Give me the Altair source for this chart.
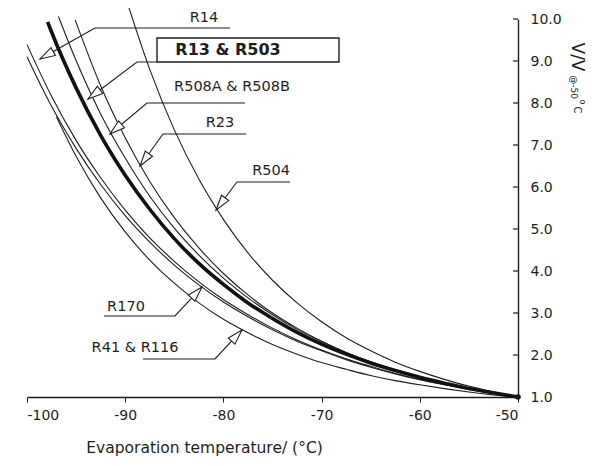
import altair as alt
import pandas as pd

INK = "#1e1e1e"
FONT = "DejaVu Sans"

# ---------------- curve data ----------------
R14_T = [-100, -97.5, -95, -92.5, -90, -87.5, -85, -82.5, -80, -77.5, -75, -72.5, -70, -67.5, -65, -62.5, -60, -57.5, -55, -52.5, -50]
R14_V = [9.39, 8.16, 7.11, 6.22, 5.45, 4.79, 4.23, 3.74, 3.32, 2.96, 2.64, 2.36, 2.12, 1.91, 1.73, 1.56, 1.42, 1.30, 1.19, 1.09, 1.00]

R170_T = [-100, -97.5, -95, -92.5, -90, -87.5, -85, -82.5, -80, -77.5, -75, -72.5, -70, -67.5, -65, -62.5, -60, -57.5, -55, -52.5, -50]
R170_V = [9.10, 7.92, 6.92, 6.06, 5.32, 4.69, 4.14, 3.67, 3.26, 2.91, 2.60, 2.33, 2.10, 1.89, 1.71, 1.55, 1.41, 1.29, 1.18, 1.09, 1.00]

R41_T = [-97, -95, -92.5, -90, -87.5, -85, -82.5, -80, -77.5, -75, -72.5, -70, -67.5, -65, -62.5, -60, -57.5, -55, -52.5, -50]
R41_V = [7.67, 6.73, 5.74, 4.93, 4.26, 3.71, 3.24, 2.85, 2.53, 2.25, 2.02, 1.82, 1.66, 1.51, 1.39, 1.29, 1.20, 1.12, 1.05, 1.00]

R13_T = [-97.9, -97.5, -95, -92.5, -90, -87.5, -85, -82.5, -80, -77.5, -75, -72.5, -70, -67.5, -65, -62.5, -60, -57.5, -55, -52.5, -50]
R13_V = [9.93, 9.69, 8.36, 7.23, 6.28, 5.47, 4.77, 4.18, 3.68, 3.24, 2.87, 2.54, 2.26, 2.02, 1.81, 1.63, 1.47, 1.33, 1.20, 1.10, 1.00]

R508_T = [-96.8, -95, -92.5, -90, -87.5, -85, -82.5, -80, -77.5, -75, -72.5, -70, -67.5, -65, -62.5, -60, -57.5, -55, -52.5, -50]
R508_V = [10.06, 9.01, 7.74, 6.69, 5.78, 5.02, 4.38, 3.83, 3.36, 2.96, 2.61, 2.32, 2.06, 1.84, 1.65, 1.48, 1.34, 1.21, 1.10, 1.00]

R23_T = [-95.1, -92.5, -90, -87.5, -85, -82.5, -80, -77.5, -75, -72.5, -70, -67.5, -65, -62.5, -60, -57.5, -55, -52.5, -50]
R23_V = [9.98, 8.41, 7.17, 6.13, 5.27, 4.55, 3.94, 3.43, 3.00, 2.64, 2.33, 2.06, 1.83, 1.64, 1.47, 1.33, 1.20, 1.09, 1.00]

R504_T = [-89.8, -87.5, -85, -82.5, -80, -77.5, -75, -72.5, -70, -67.5, -65, -62.5, -60, -57.5, -55, -52.5, -50]
R504_V = [10.40, 8.80, 7.36, 6.19, 5.23, 4.43, 3.78, 3.24, 2.79, 2.41, 2.10, 1.83, 1.61, 1.42, 1.26, 1.12, 1.00]

# ---------------- annotation data ----------------
LABELS = ["R14", "R13 & R503", "R508A & R508B", "R23", "R504", "R170", "R41 & R116"]
LABEL_T = [-81.98, -79.53, -79.12, -80.35, -75.15, -89.92, -89.00]
LABEL_V = [10.02, 9.262, 8.381, 7.524, 6.381, 3.143, 2.167]
LEAD_T = [[-79.33, -93.08, -98.68], [-86.76, -88.80, -93.79], [-77.80, -87.78, -91.55],
          [-77.70, -86.15, -88.49], [-73.22, -78.62, -80.75], [-92.16, -84.93, -82.18],
          [-88.19, -80.86, -78.11]]
LEAD_V = [[9.786, 9.786, 9.048], [8.976, 8.976, 8.095], [8.0, 8.0, 7.262],
          [7.262, 7.262, 6.50], [6.119, 6.119, 5.452], [2.929, 2.929, 3.619],
          [1.905, 1.905, 2.595]]
ARROW_ANGLE = [240.6, 232.9, 230.0, 215.7, 216.9, 43.0, 43.0]
BOX_T = [-86.76, -68.23]
BOX_V = [8.976, 9.548]

X_TICKS = [-100, -90, -80, -70, -60, -50]
Y_TICKS = [1, 2, 3, 4, 5, 6, 7, 8, 9, 10]

# ---------------- tables ----------------
thin_series = [("R14", R14_T, R14_V), ("R170", R170_T, R170_V), ("R41 & R116", R41_T, R41_V),
               ("R508A & R508B", R508_T, R508_V), ("R23", R23_T, R23_V), ("R504", R504_T, R504_V)]
rows = []
for name, ts, vs in thin_series:
    for t, v in zip(ts, vs):
        rows.append({"series": name, "T": t, "V": v})
df_thin = pd.DataFrame(rows)
df_thick = pd.DataFrame({"series": "R13 & R503", "T": R13_T, "V": R13_V})

lead_rows = []
for i, (ts, vs) in enumerate(zip(LEAD_T, LEAD_V)):
    for k, (t, v) in enumerate(zip(ts, vs)):
        lead_rows.append({"id": i, "k": k, "T": t, "V": v})
df_lead = pd.DataFrame(lead_rows)
df_tip = pd.DataFrame({"T": [t[-1] for t in LEAD_T], "V": [v[-1] for v in LEAD_V], "ang": ARROW_ANGLE})
df_lab = pd.DataFrame({"name": LABELS, "T": LABEL_T, "V": LABEL_V})
df_lab_bold = df_lab[df_lab["name"] == "R13 & R503"]
df_lab_norm = df_lab[df_lab["name"] != "R13 & R503"]
df_box = pd.DataFrame({"T": [BOX_T[0]], "T2": [BOX_T[1]], "V": [BOX_V[0]], "V2": [BOX_V[1]]})
df_end = pd.DataFrame({"T": [-50], "V": [1.0]})
df_yt = pd.DataFrame({"V": Y_TICKS})

xaxis = alt.Axis(values=X_TICKS, labelExpr="datum.value + ''", tickSize=5, labelPadding=6,
                 grid=False, title="Evaporation temperature/ (°C)", titleX=177, titleY=50,
                 titleBaseline="middle", titleAlign="center", titleFontWeight="normal",
                 titleFontSize=15.5, titleFont=FONT, titleColor=INK)
yaxis = alt.Axis(orient="right", values=Y_TICKS, format=".1f", ticks=False, labelPadding=12,
                 grid=False, title=None)
X = alt.X("T:Q", scale=alt.Scale(domain=[-100, -50], nice=False, zero=False), axis=xaxis)
Y = alt.Y("V:Q", scale=alt.Scale(domain=[1, 10], nice=False, zero=False), axis=yaxis)

thin = alt.Chart(df_thin).mark_line(interpolate="monotone", color=INK, strokeWidth=1.1).encode(
    x=X, y=Y, detail="series:N")
thick = alt.Chart(df_thick).mark_line(interpolate="monotone", color="#111", strokeWidth=3.6).encode(
    x=X, y=Y)
leaders = alt.Chart(df_lead).mark_line(color=INK, strokeWidth=1.1).encode(
    x=X, y=Y, detail="id:N", order="k:Q")
ARROW = "M0,0L-0.65,2.2L0.65,2.2Z"
arrows = alt.Chart(df_tip).mark_point(shape=ARROW, size=190, filled=True, fill="white",
                                      stroke=INK, strokeWidth=1.1, opacity=1).encode(
    x=X, y=Y, angle=alt.Angle("ang:Q", scale=None))
box = alt.Chart(df_box).mark_rect(fillOpacity=0, stroke=INK, strokeWidth=1.4).encode(
    x=X, x2="T2:Q", y=Y, y2="V2:Q")
labels = alt.Chart(df_lab_norm).mark_text(font=FONT, fontSize=14.5, color=INK, align="center",
                                          baseline="middle").encode(x=X, y=Y, text="name:N")
labels_b = alt.Chart(df_lab_bold).mark_text(font=FONT, fontSize=16, fontWeight="bold", color=INK,
                                            align="center", baseline="middle").encode(
    x=X, y=Y, text="name:N")
end_dot = alt.Chart(df_end).mark_point(filled=True, color="#111", size=30, opacity=1).encode(x=X, y=Y)
yticks = alt.Chart(df_yt).mark_rule(color=INK, strokeWidth=1.2).encode(
    y=Y, x=alt.value(486), x2=alt.value(491))

ytitle_parts = pd.DataFrame({"t": ["V/V", "@-50", "o", "C"],
                             "px": [550, 547, 555, 550], "py": [38, 68, 83, 91],
                             "fs": [17, 9, 8, 10]})
ytitle = alt.Chart(ytitle_parts).mark_text(font=FONT, angle=90, color=INK, align="center",
                                           baseline="middle").encode(
    x=alt.X("px:Q", scale=None), y=alt.Y("py:Q", scale=None), text="t:N",
    size=alt.Size("fs:Q", scale=None, legend=None))

chart = alt.layer(thin, thick, leaders, box, arrows, labels, labels_b, end_dot, yticks, ytitle).properties(
    width=491, height=378,
    autosize=alt.AutoSizeParams(type="none"),
    padding={"left": 19, "top": 11, "right": 72, "bottom": 61},
    background="white",
).configure_view(stroke=None).configure_axis(
    domainColor=INK, domainWidth=1.4, tickColor=INK, labelFont=FONT, labelFontSize=14,
    labelColor=INK)

chart.save("out.html", embed_options={"renderer": "svg", "actions": False})
